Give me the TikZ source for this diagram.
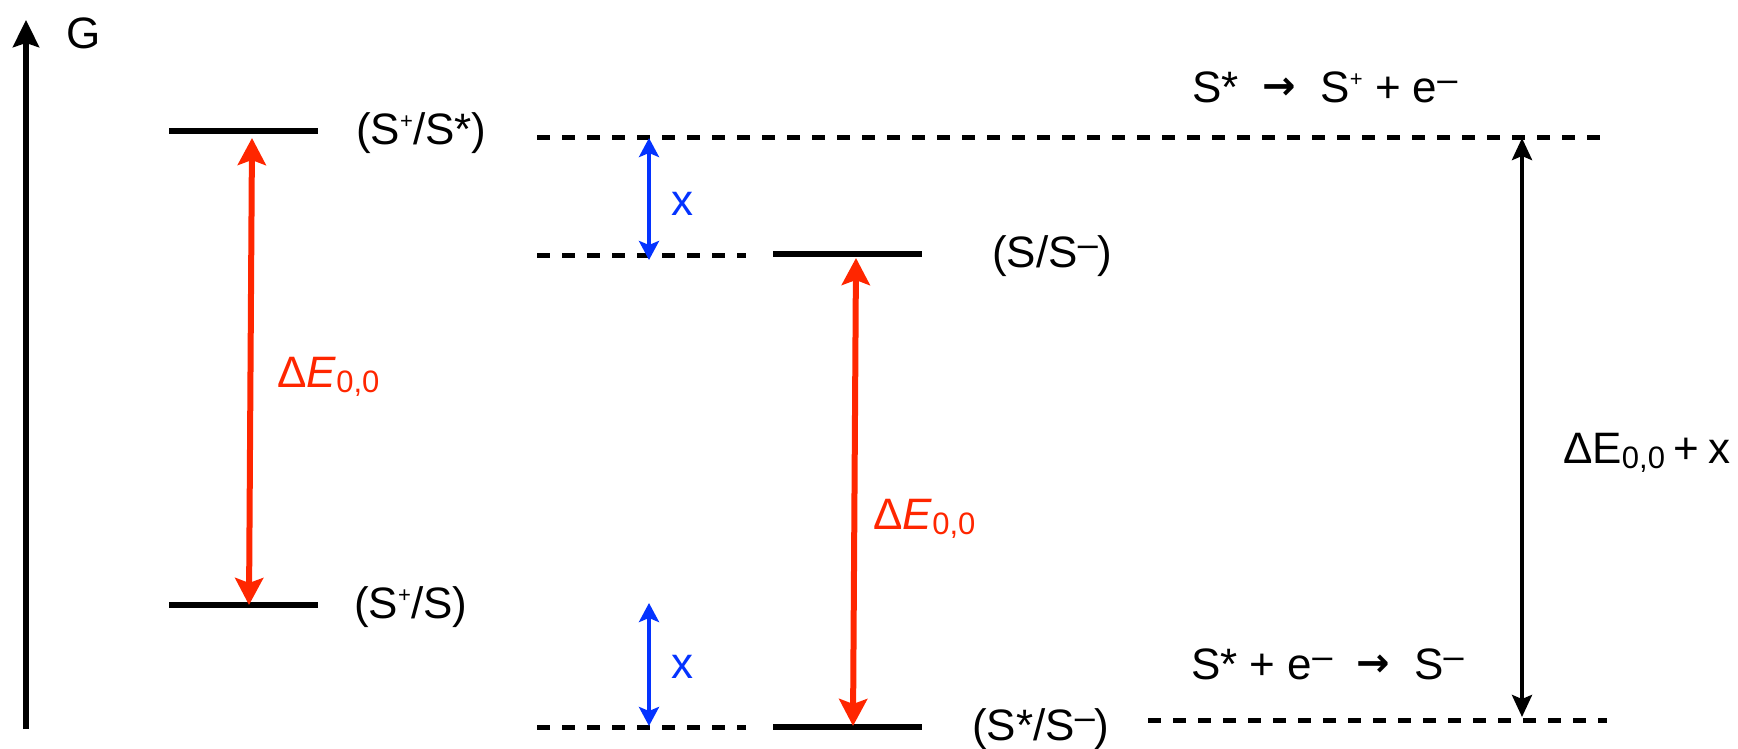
\documentclass[tikz,border=0pt]{standalone}
\usepackage{fontspec}
\setmainfont{Liberation Sans}
\newfontfamily\dejavu{DejaVu Sans}
\usetikzlibrary{arrows.meta}
\definecolor{kred}{HTML}{FF2600}
\definecolor{kblue}{HTML}{0433FF}
\newcommand\hi[1]{\raisebox{0.36em}{\fontsize{22}{22}\selectfont #1}}
\newcommand\minsup{\raisebox{0.24em}{\fontsize{36}{36}\selectfont –}}
\newcommand\lo[1]{\raisebox{-0.12em}{\fontsize{31}{31}\selectfont #1}}
\newcommand\gap{\hspace{0.55em}}
\newcommand\arr{\raisebox{0.05em}{\dejavu\bfseries\fontsize{40}{40}\selectfont →}}
\begin{document}
\begin{tikzpicture}[x=1pt,y=-1pt,
  lbl/.style={font=\fontsize{44}{50}\selectfont, inner sep=0pt},
  level/.style={line width=6pt},
  dashline/.style={line width=5pt, dash pattern=on 12.5pt off 12.5pt},
  redarrow/.style={kred, line width=6pt, {Stealth[length=27pt,width=28pt,inset=5pt]}-{Stealth[length=27pt,width=28pt,inset=5pt]}},
  bluearrow/.style={kblue, line width=4.5pt, {Stealth[length=19pt,width=20pt,inset=4pt]}-{Stealth[length=19pt,width=20pt,inset=4pt]}},
  blackarrow/.style={black, line width=4pt, {Stealth[length=22pt,width=20pt,inset=4pt]}-{Stealth[length=22pt,width=20pt,inset=4pt]}}
]
\useasboundingbox (0,0) rectangle (1738,748);

% axis
\coordinate (ax0) at (26,729);
\coordinate (ax1) at (26,20);
\draw[line width=6pt, -{Stealth[length=27pt,width=26pt,inset=4pt]}] (ax0) -- (ax1);
\node[font=\fontsize{44}{50}\selectfont, inner sep=0pt] (G) at (84,33) {G};

% levels
\coordinate (L1a) at (169,131); \coordinate (L1b) at (318,131);
\coordinate (L2a) at (169,605); \coordinate (L2b) at (318,605);
\coordinate (L3a) at (773,254); \coordinate (L3b) at (922,254);
\coordinate (L4a) at (773,727); \coordinate (L4b) at (922,727);
\draw[level] (L1a) -- (L1b);
\draw[level] (L2a) -- (L2b);
\draw[level] (L3a) -- (L3b);
\draw[level] (L4a) -- (L4b);
\node[lbl, anchor=west] (l1) at (356,133) {(S\hi{+}/S*)};
\node[lbl, anchor=west] (l2) at (354,607) {(S\hi{+}/S)};
\node[lbl, anchor=west] (l3) at (992,256) {(S/S\minsup)};
\node[lbl, anchor=west] (l4) at (972,729) {(S*/S\minsup)};

% dashed lines
\coordinate (D1a) at (537,137); \coordinate (D1b) at (1607,137);
\coordinate (D2a) at (537,255); \coordinate (D2b) at (746,255);
\coordinate (D3a) at (537,727); \coordinate (D3b) at (746,727);
\coordinate (D4a) at (1148,720); \coordinate (D4b) at (1607,720);
\draw[dashline] (D1a) -- (D1b);
\draw[dashline] (D2a) -- (D2b);
\draw[dashline] (D3a) -- (D3b);
\draw[dashline] (D4a) -- (D4b);

% red arrows
\coordinate (R1t) at (252,138); \coordinate (R1b) at (249,605);
\coordinate (R2t) at (856,258); \coordinate (R2b) at (853,726);
\draw[redarrow] (R1t) -- (R1b);
\draw[redarrow] (R2t) -- (R2b);
\node[lbl, kred, anchor=base west] (e1) at (277,387) {Δ\textit{E}\lo{0,0}};
\node[lbl, kred, anchor=base west] (e2) at (873,529) {Δ\textit{E}\lo{0,0}};

% blue arrows
\coordinate (B1t) at (649,138); \coordinate (B1b) at (649,260);
\coordinate (B2t) at (649,603); \coordinate (B2b) at (649,726);
\draw[bluearrow] (B1t) -- (B1b);
\draw[bluearrow] (B2t) -- (B2b);
\node[lbl, kblue] (x1) at (682,204) {x};
\node[lbl, kblue] (x2) at (682,667) {x};

% black arrow
\coordinate (K1t) at (1522,138); \coordinate (K1b) at (1522,717);
\draw[blackarrow] (K1t) -- (K1b);
\node[lbl, anchor=base west] (e3) at (1563,463) {ΔE\lo{0,0}\hspace{0.2em}+\hspace{0.2em}x};

% reactions
\node[lbl, anchor=base west] (r1) at (1192,102) {S*\gap\arr\gap S\hi{+} + e\minsup};
\node[lbl, anchor=base west] (r2) at (1191,679) {S* + e\minsup\gap\arr\gap S\minsup};
\end{tikzpicture}
\end{document}
